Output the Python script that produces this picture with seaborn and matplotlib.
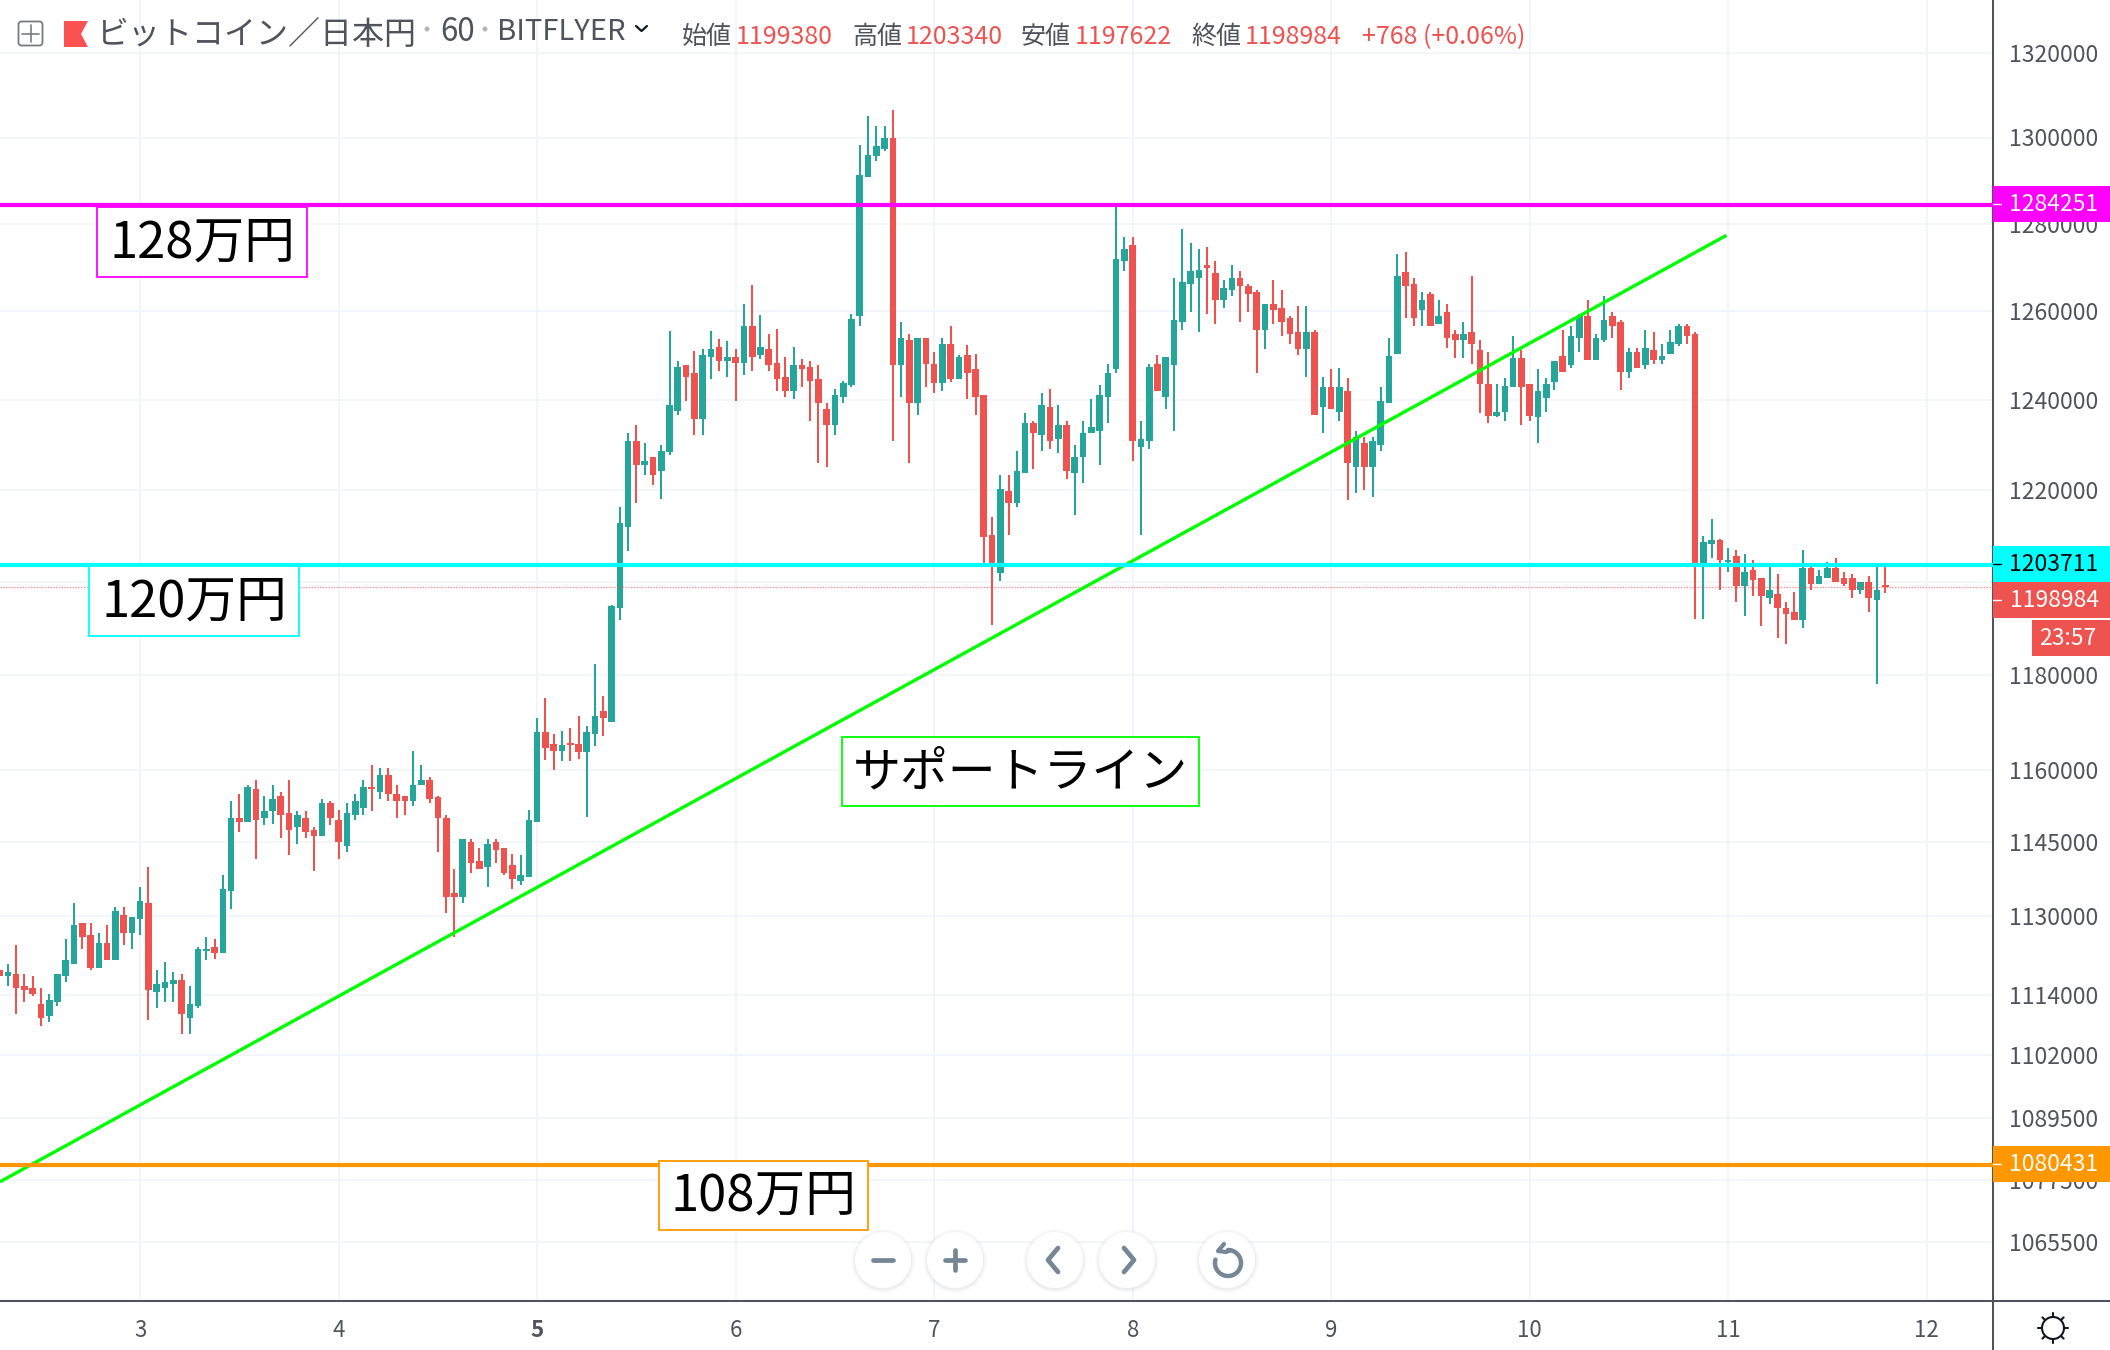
import numpy as np
import pandas as pd
import matplotlib
matplotlib.use("Agg")
import matplotlib.pyplot as plt
import seaborn as sns
from matplotlib.lines import Line2D
from matplotlib.patches import Rectangle, Circle, Polygon, FancyBboxPatch
from matplotlib.ticker import NullLocator

# hourly candles, thousand yen
opens = [
    1118.9,1117.7,1118.1,1115.7,1115.3,1112.1,1109.7,1112.5,1117.7,1120.1,
    1128.5,1126.1,1119.3,1124.5,1120.9,1130.1,1126.5,1129.3,1132.6,1114.5,
    1115.3,1116.1,1116.9,1109.3,1111.7,1122.9,1123.7,1122.5,1135.0,1150.1,
    1149.3,1156.0,1150.1,1151.4,1154.7,1151.0,1148.1,1150.1,1147.6,1146.4,
    1153.1,1149.7,1144.3,1150.6,1152.2,1156.4,1155.5,1158.9,1155.1,1154.7,
    1153.5,1156.8,1158.0,1154.3,1150.1,1134.6,1133.8,1145.1,1141.1,1139.9,
    1145.1,1143.9,1140.3,1137.0,1137.8,1149.3,1168.0,1165.5,1164.1,1165.7,
    1165.4,1163.7,1167.5,1172.5,1170.0,1194.3,1212.0,1230.9,1225.6,1227.4,
    1224.2,1228.3,1237.5,1247.8,1246.1,1235.8,1249.6,1251.9,1248.7,1249.6,
    1248.3,1256.7,1250.0,1251.4,1248.3,1245.2,1242.0,1247.8,1247.4,1244.7,
    1238.0,1234.5,1240.6,1243.3,1258.8,1290.9,1295.6,1297.4,1299.8,1247.7,
    1253.5,1239.2,1253.9,1248.1,1243.7,1252.6,1244.6,1250.0,1246.8,1241.1,
    1210.2,1202.0,1219.8,1217.2,1223.7,1234.8,1232.1,1238.4,1231.3,1234.3,
    1223.7,1227.2,1232.6,1233.0,1240.6,1246.8,1271.4,1275.0,1229.5,1230.8,
    1248.1,1240.6,1247.7,1257.5,1266.2,1267.6,1270.4,1268.6,1262.5,1264.8,
    1267.6,1265.8,1264.3,1255.7,1261.6,1260.6,1258.4,1255.2,1251.3,1255.2,
    1238.4,1242.8,1237.4,1241.9,1225.0,1230.4,1225.0,1229.9,1239.2,1250.3,
    1268.8,1266.1,1260.2,1263.8,1257.0,1259.7,1254.8,1253.5,1255.3,1251.2,
    1243.6,1236.5,1237.4,1242.8,1249.4,1243.6,1236.1,1240.5,1244.1,1249.9,
    1247.7,1253.9,1258.8,1249.0,1253.5,1258.8,1257.5,1246.3,1250.8,1247.7,
    1251.2,1249.0,1250.3,1252.6,1256.6,1254.8,1204.0,1208.2,1209.0,1204.3,
    1205.6,1199.1,1202.6,1200.9,1196.6,1197.4,1194.4,1193.6,1191.8,1203.0,
    1199.6,1200.9,1203.0,1200.9,1200.9,1198.3,1200.0,1196.1,1199.38,
]
highs = [
    1118.9,1120.1,1124.1,1118.1,1117.7,1115.3,1114.1,1118.1,1125.3,1132.6,
    1128.5,1128.5,1126.5,1128.1,1131.8,1131.8,1129.7,1135.8,1139.9,1118.9,
    1120.5,1118.5,1118.1,1115.7,1123.7,1125.7,1125.3,1138.2,1153.5,1155.1,
    1156.8,1158.0,1154.7,1156.8,1155.5,1158.0,1151.4,1151.4,1148.1,1153.9,
    1153.5,1151.8,1153.1,1155.1,1158.0,1161.0,1160.5,1160.5,1156.8,1154.7,
    1163.9,1161.0,1158.5,1154.7,1150.6,1139.5,1145.6,1145.6,1143.9,1145.6,
    1145.6,1143.9,1142.7,1142.3,1151.8,1171.0,1175.1,1167.6,1168.3,1168.8,
    1171.3,1169.2,1182.3,1175.6,1195.0,1216.4,1232.7,1234.5,1230.4,1227.4,
    1230.0,1255.4,1248.7,1247.8,1250.9,1251.4,1255.4,1253.6,1253.2,1251.4,
    1261.6,1265.9,1259.0,1254.9,1255.9,1249.6,1251.9,1249.2,1248.7,1247.8,
    1239.4,1242.5,1244.2,1259.4,1298.3,1305.0,1302.6,1302.6,1306.4,1257.5,
    1254.9,1253.9,1253.9,1250.8,1253.9,1256.6,1250.0,1252.2,1250.3,1241.1,
    1214.1,1223.3,1223.3,1228.6,1237.0,1235.3,1241.5,1242.4,1238.8,1235.3,
    1229.9,1235.3,1240.2,1243.3,1248.1,1284.1,1276.9,1276.9,1235.3,1248.1,
    1250.0,1249.5,1267.6,1278.8,1275.5,1274.1,1274.6,1271.4,1267.1,1270.4,
    1269.0,1266.2,1264.8,1261.6,1267.1,1264.8,1258.8,1261.1,1261.1,1255.7,
    1245.1,1246.8,1247.2,1245.0,1233.0,1231.7,1231.7,1242.8,1253.9,1273.0,
    1273.4,1267.5,1264.3,1264.3,1262.4,1261.5,1255.7,1257.5,1267.9,1253.5,
    1250.8,1243.6,1245.0,1254.4,1251.2,1243.6,1246.8,1245.0,1248.6,1255.7,
    1256.6,1259.3,1262.4,1254.8,1263.4,1259.7,1257.9,1251.7,1251.7,1255.7,
    1255.3,1252.6,1255.7,1257.0,1257.0,1255.3,1209.9,1213.7,1209.4,1207.3,
    1206.9,1206.0,1204.7,1200.9,1203.3,1201.7,1195.7,1197.9,1206.9,1203.4,
    1202.6,1204.3,1205.1,1202.1,1201.7,1200.0,1201.3,1203.6,1203.34,
]
lows = [
    1117.7,1115.7,1110.1,1112.5,1113.7,1107.7,1108.5,1111.7,1116.5,1120.1,
    1123.3,1118.9,1119.3,1120.9,1120.9,1124.1,1123.3,1126.1,1108.9,1111.3,
    1112.5,1112.5,1106.1,1106.1,1111.3,1120.9,1121.3,1122.5,1131.4,1147.2,
    1149.3,1141.5,1148.5,1148.9,1146.0,1142.3,1144.7,1146.0,1139.1,1146.4,
    1148.5,1141.5,1143.1,1149.7,1150.6,1151.4,1153.9,1153.5,1150.1,1150.6,
    1152.6,1156.8,1153.1,1143.1,1130.5,1125.7,1132.6,1138.7,1139.5,1135.8,
    1140.7,1138.2,1135.4,1136.2,1137.8,1149.3,1162.2,1160.1,1162.0,1162.0,
    1162.4,1150.3,1165.0,1167.1,1170.0,1191.7,1206.7,1217.2,1223.3,1221.1,
    1218.1,1227.8,1236.7,1239.8,1232.2,1232.2,1244.7,1246.5,1245.2,1239.8,
    1245.6,1246.5,1249.2,1246.5,1242.0,1240.7,1240.2,1242.9,1235.3,1226.0,
    1225.2,1232.2,1239.4,1242.9,1256.6,1290.9,1294.6,1296.9,1230.8,1240.6,
    1226.0,1236.6,1242.8,1241.5,1241.9,1244.1,1244.6,1240.2,1236.6,1203.3,
    1190.7,1200.2,1210.2,1216.3,1223.7,1224.7,1228.6,1229.1,1228.2,1222.4,
    1214.5,1221.5,1232.6,1225.5,1234.8,1245.9,1269.0,1226.4,1210.2,1229.1,
    1241.9,1237.9,1233.0,1255.7,1259.7,1255.2,1259.3,1257.1,1260.6,1263.4,
    1257.5,1259.7,1245.9,1251.3,1257.1,1254.4,1252.6,1250.0,1245.1,1236.6,
    1232.6,1237.9,1235.2,1217.9,1219.3,1220.1,1218.4,1228.6,1239.2,1250.3,
    1258.4,1256.6,1256.6,1256.6,1257.0,1251.7,1249.4,1249.4,1248.1,1237.0,
    1234.8,1236.1,1235.2,1242.8,1234.3,1235.2,1230.3,1237.4,1242.3,1246.3,
    1247.2,1250.8,1249.0,1249.0,1253.0,1253.9,1242.3,1245.0,1247.2,1246.8,
    1248.1,1248.1,1250.3,1252.1,1252.6,1192.1,1192.0,1205.1,1198.3,1202.1,
    1195.7,1192.7,1197.0,1190.6,1195.3,1188.0,1186.7,1191.8,1190.1,1198.3,
    1199.6,1200.9,1200.0,1199.1,1196.6,1197.4,1193.6,1178.1,1197.622,
]
closes = [
    1117.7,1118.5,1115.3,1114.9,1114.1,1109.3,1112.9,1118.1,1120.9,1128.1,
    1125.7,1119.3,1124.5,1120.9,1130.9,1126.5,1129.7,1133.0,1114.9,1116.1,
    1116.5,1116.9,1110.1,1112.1,1123.3,1123.3,1122.5,1135.4,1150.1,1149.3,
    1156.4,1149.7,1151.4,1153.9,1150.6,1147.6,1150.6,1147.2,1146.4,1153.1,
    1150.1,1145.1,1151.0,1153.5,1156.4,1156.0,1158.9,1155.1,1153.5,1153.5,
    1156.8,1158.0,1153.9,1150.1,1133.8,1133.8,1145.6,1140.7,1139.5,1144.7,
    1143.5,1138.7,1137.4,1138.2,1149.7,1168.0,1164.7,1163.9,1165.3,1165.3,
    1163.7,1167.9,1171.3,1170.9,1194.7,1212.9,1230.9,1225.6,1226.4,1223.3,
    1228.7,1238.9,1247.4,1245.2,1235.8,1250.0,1251.4,1248.7,1249.6,1248.3,
    1256.7,1249.6,1251.9,1247.8,1244.7,1242.0,1247.8,1246.9,1244.2,1239.4,
    1234.5,1241.1,1243.8,1258.1,1291.3,1296.0,1297.9,1299.8,1247.7,1253.9,
    1239.2,1253.9,1248.1,1243.7,1252.6,1244.6,1249.5,1245.9,1240.6,1209.8,
    1203.6,1220.2,1217.2,1224.2,1234.8,1232.6,1238.8,1230.8,1234.3,1224.2,
    1227.2,1232.6,1234.0,1241.1,1245.9,1271.8,1274.1,1230.8,1231.3,1247.3,
    1241.9,1249.5,1257.9,1266.7,1269.0,1269.4,1269.9,1262.5,1265.3,1267.6,
    1265.8,1263.9,1255.7,1261.6,1260.2,1257.5,1254.9,1251.3,1255.2,1236.6,
    1242.8,1237.9,1242.8,1225.9,1231.7,1225.0,1230.8,1239.7,1249.9,1267.9,
    1265.6,1258.4,1262.4,1256.6,1258.8,1253.9,1253.5,1254.8,1252.6,1243.6,
    1236.5,1237.4,1243.2,1249.4,1242.8,1236.5,1241.9,1243.6,1248.6,1246.3,
    1254.4,1258.8,1249.0,1253.9,1257.9,1256.6,1246.3,1250.8,1247.2,1251.7,
    1249.0,1249.9,1253.0,1256.6,1254.4,1203.3,1208.6,1209.0,1204.7,1204.7,
    1199.1,1202.1,1200.4,1197.0,1198.3,1194.4,1193.1,1191.8,1203.0,1199.6,
    1201.3,1203.0,1200.0,1199.6,1198.3,1200.0,1196.6,1198.3,1198.984,
]

price_ticks = [1320000, 1300000, 1280000, 1260000, 1240000, 1220000, 1200000, 1180000,
               1160000, 1145000, 1130000, 1114000, 1102000, 1089500, 1077500, 1065500]
day_labels = [3, 4, 5, 6, 7, 8, 9, 10, 11, 12]
first_day_bar = 17          # bar number of day 3, 00:00

resistance = 1284251
middle = 1203711
support = 1080431
last_price = 1198984
trend_x = [0.05, 208.8]
trend_y = [1077100, 1277300]

UP = "#26a69a"
DOWN = "#ef5350"
INK = "#50535e"
GRID = "#f0f3fa"
MAGENTA = "#ff00ff"
CYAN = "#00ffff"
ORANGE = "#ff9800"
GREEN = "#00ff00"

sns.set_theme(style="white")
plt.rcParams["font.family"] = ["Noto Sans CJK JP", "DejaVu Sans"]

W, H = 2110, 1350
PANE_R, PANE_B = 1992.5, 1301
fig = plt.figure(figsize=(W / 100, H / 100), dpi=100, facecolor="white")
ax = fig.add_axes([0, (H - PANE_B) / H, PANE_R / W, PANE_B / H])

df = pd.DataFrame({"bar": np.arange(len(opens)), "open": opens, "high": highs,
                   "low": lows, "close": closes})
for c in ["open", "high", "low", "close"]:
    df[c] = df[c] * 1000
df["colour"] = np.where(df["close"] >= df["open"], UP, DOWN)

ax.set_yscale("log")
ax.vlines(df["bar"], df["low"], df["high"], colors=df["colour"], linewidth=1.45, zorder=3)
ax.bar(df["bar"], (df["close"] - df["open"]).abs(), bottom=df[["open", "close"]].min(axis=1),
       width=0.8, color=df["colour"], linewidth=0, zorder=4)

sns.lineplot(x=trend_x, y=trend_y, color=GREEN, linewidth=2.4, ax=ax, zorder=6,
             estimator=None, sort=False, solid_capstyle="butt")
ax.axhline(last_price, color=DOWN, linewidth=1.0, linestyle=(0, (1, 1)), alpha=0.6, zorder=5)
ax.axhline(resistance, color=MAGENTA, linewidth=3.0, zorder=6)
ax.axhline(middle, color=CYAN, linewidth=3.0, zorder=6)
ax.axhline(support, color=ORANGE, linewidth=3.0, zorder=6)

ax.set_xlim(0.05, 0.1 + first_day_bar + (PANE_R - 140.5) / 8.273)
ax.set_ylim(1300000 * np.exp(-(PANE_B - 137.5) / 5552), 1300000 * np.exp(137.5 / 5552))
# 1200000 sits under the two price tags, so it keeps its tick but shows no label
ax.set_yticks(price_ticks, labels=["" if t == 1200000 else str(t) for t in price_ticks])
ax.yaxis.set_minor_locator(NullLocator())
ax.set_xticks([first_day_bar + 24 * (d - 3) for d in day_labels], labels=[str(d) for d in day_labels])
ax.yaxis.tick_right()
ax.tick_params(axis="y", length=6.5, width=1, color=INK, labelcolor=INK, labelsize=16.5, pad=5.5)
ax.tick_params(axis="x", length=5, width=1, color=INK, labelcolor=INK, labelsize=16, pad=8)
ax.xaxis.get_ticklabels()[2].set_fontweight("bold")
ax.grid(True, color=GRID, linewidth=1.2)
ax.set_axisbelow(True)
ax.set_xlabel("")
ax.set_ylabel("")
sns.despine(ax=ax, left=True, top=True, right=False, bottom=False)
for s in ["right", "bottom"]:
    ax.spines[s].set_color(INK)
    ax.spines[s].set_linewidth(1.45)

# overlay in picture pixels for the tags, notes and toolbar
ov = fig.add_axes([0, 0, 1, 1], zorder=10)
ov.set_xlim(0, W)
ov.set_ylim(H, 0)
ov.axis("off")
ov.patch.set_alpha(0)

ov.add_line(Line2D([PANE_R, W], [PANE_B, PANE_B], color=INK, lw=1.45))
ov.add_line(Line2D([PANE_R, PANE_R], [PANE_B, H], color=INK, lw=1.45))


def price_tag(top, bottom, label, face, fg, left=PANE_R):
    ov.add_patch(Rectangle((left, top), W - left, bottom - top, facecolor=face, edgecolor="none", zorder=2))
    ov.text(2054 if left == PANE_R else 2068, (top + bottom) / 2 + 0.5, label, color=fg, fontsize=16.5,
            ha="center", va="center", zorder=3)
    if left == PANE_R:
        ov.add_line(Line2D([PANE_R, 2001], [(top + bottom) / 2] * 2, color=fg, lw=1, zorder=3))


price_tag(186, 222, "1284251", MAGENTA, "white")
price_tag(546, 582, "1203711", CYAN, "black")
price_tag(582, 618, "1198984", DOWN, "white")
price_tag(620, 656, "23:57", DOWN, "white", left=2032)
price_tag(1146, 1182, "1080431", ORANGE, "white")


def note(x0, y0, x1, y1, label, edge, size=36.5):
    ov.add_patch(Rectangle((x0, y0), x1 - x0, y1 - y0, facecolor="white", edgecolor=edge, linewidth=1.3, zorder=2))
    ov.text((x0 + x1) / 2, (y0 + y1) / 2 + 1.5, label, color="black", fontsize=size, ha="center", va="center", zorder=3)


note(97, 207, 307, 277, "128万円", MAGENTA)
note(89, 566, 299, 636, "120万円", CYAN)
note(659, 1161, 868, 1230, "108万円", ORANGE)
note(842, 737, 1199, 806, "サポートライン", GREEN, size=34.5)

# header
ov.add_patch(FancyBboxPatch((18.5, 21.5), 24, 24, boxstyle="round,pad=0,rounding_size=3",
                            facecolor="none", edgecolor="#787b86", linewidth=1.3))
ov.add_line(Line2D([30.5, 30.5], [25, 42], color="#787b86", lw=1.2))
ov.add_line(Line2D([22, 39], [33.5, 33.5], color="#787b86", lw=1.2))
ov.add_patch(Polygon([(64, 21), (88, 21), (81, 34), (88, 47), (64, 47)], facecolor="#fa5252", edgecolor="none"))
ov.text(96, 35, "ビットコイン／日本円", color=INK, fontsize=23, ha="left", va="center")
ov.add_patch(Circle((427, 29), 2.5, facecolor="#b2b5be", edgecolor="none"))
ov.text(440, 32, "60", color=INK, fontsize=22.5, ha="left", va="center")
ov.add_patch(Circle((485, 29), 2.5, facecolor="#b2b5be", edgecolor="none"))
ov.text(497, 32, "BITFLYER", color=INK, fontsize=21, ha="left", va="center")
ov.add_line(Line2D([636, 641.5, 647], [26, 31, 26], color="#131722", lw=1.6))

for x, lab, num_x, num in [(682, "始値", 736, "1199380"), (852, "高値", 906, "1203340"),
                           (1021, "安値", 1075, "1197622"), (1191, "終値", 1245, "1198984")]:
    ov.text(x, 37, lab, color=INK, fontsize=18, ha="left", va="center")
    ov.text(num_x, 37, num, color=DOWN, fontsize=18, ha="left", va="center")
ov.text(1362, 37, "+768 (+0.06%)", color=DOWN, fontsize=18, ha="left", va="center")

# toolbar buttons
BTN = "#758696"
for cx in [883, 955, 1055, 1127, 1227]:
    for r, a in [(32, 0.012), (31, 0.015), (30, 0.02), (29, 0.03)]:
        ov.add_patch(Circle((cx, 1261), r, facecolor="#2a2e39", alpha=a, edgecolor="none"))
    ov.add_patch(Circle((cx, 1260), 28, facecolor="white", edgecolor="none"))
ov.add_line(Line2D([873, 893], [1260, 1260], color=BTN, lw=3.4))
ov.add_line(Line2D([945, 965], [1260, 1260], color=BTN, lw=3.4))
ov.add_line(Line2D([955, 955], [1250, 1270], color=BTN, lw=3.4))
ov.add_line(Line2D([1058, 1048, 1058], [1248, 1260, 1272], color=BTN, lw=3.4))
ov.add_line(Line2D([1124, 1134, 1124], [1248, 1260, 1272], color=BTN, lw=3.4))
t = np.radians(np.linspace(0, 285, 60))
ov.add_line(Line2D(1228 + 13 * np.sin(t), 1263 - 13 * np.cos(t), color=BTN, lw=3.2))
ov.add_line(Line2D([1224, 1218, 1226, 1231], [1244, 1251, 1252, 1250], color=BTN, lw=3.0))

# settings gear
ov.add_patch(Circle((2053, 1328), 11, facecolor="none", edgecolor="#131722", linewidth=1.5))
for a in np.radians(np.arange(0, 360, 45)):
    ov.add_line(Line2D([2053 + 11 * np.cos(a), 2053 + 15 * np.cos(a)],
                       [1328 + 11 * np.sin(a), 1328 + 15 * np.sin(a)], color="#131722", lw=1.5))

fig.savefig("out.png", dpi=100)
